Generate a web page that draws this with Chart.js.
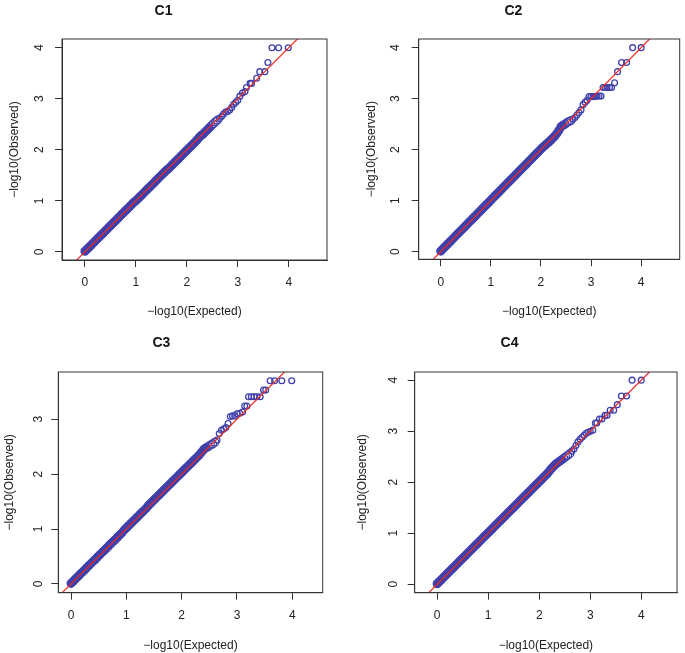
<!DOCTYPE html>
<html>
<head>
<meta charset="utf-8">
<script src="https://cdn.jsdelivr.net/npm/chart.js@4"></script>
<style>
  body { margin: 0; background: #fff; }
  canvas { position: absolute; }
</style>
</head>
<body>
<canvas id="c1" width="342" height="326" style="left:0;top:0"></canvas>
<canvas id="c2" width="343" height="326" style="left:342px;top:0"></canvas>
<canvas id="c3" width="342" height="327" style="left:0;top:326px"></canvas>
<canvas id="c4" width="343" height="327" style="left:342px;top:326px"></canvas>
<script>
const panelTitles = ['C1', 'C2', 'C3', 'C4']
const xTicks = [0, 1, 2, 3, 4]
const yTicks = [[0, 1, 2, 3, 4], [0, 1, 2, 3, 4], [0, 1, 2, 3], [0, 1, 2, 3, 4]]
const refLine = [-1, 5]   // y = x

// dense part of the QQ cloud, shared expected values
const bandExpected = [
  0.00, 0.04, 0.08, 0.12, 0.16, 0.20, 0.24, 0.28, 0.32, 0.36,
  0.40, 0.44, 0.48, 0.52, 0.56, 0.60, 0.64, 0.68, 0.72, 0.76,
  0.80, 0.84, 0.88, 0.92, 0.96, 1.00, 1.04, 1.08, 1.12, 1.16,
  1.20, 1.24, 1.28, 1.32, 1.36, 1.40, 1.44, 1.48, 1.52, 1.56,
  1.60, 1.64, 1.68, 1.72, 1.76, 1.80, 1.84, 1.88, 1.92, 1.96,
  2.00, 2.04, 2.08, 2.12, 2.16, 2.20, 2.24, 2.28, 2.32, 2.36,
  2.40, 2.44, 2.48, 2.52, 2.56, 2.60
]

const c1Band = [
  0.01, 0.05, 0.09, 0.13, 0.17, 0.21, 0.25, 0.29, 0.33, 0.37,
  0.41, 0.45, 0.49, 0.53, 0.57, 0.61, 0.65, 0.69, 0.73, 0.77,
  0.81, 0.85, 0.89, 0.93, 0.97, 1.00, 1.04, 1.08, 1.12, 1.16,
  1.20, 1.24, 1.28, 1.32, 1.36, 1.40, 1.44, 1.48, 1.52, 1.56,
  1.60, 1.63, 1.67, 1.71, 1.75, 1.79, 1.83, 1.87, 1.91, 1.95,
  1.99, 2.03, 2.07, 2.11, 2.15, 2.19, 2.24, 2.28, 2.31, 2.35,
  2.39, 2.43, 2.47, 2.51, 2.55, 2.58
]
const c1TailExpected = [2.64, 2.68, 2.72, 2.76, 2.80, 2.84, 2.88, 2.92, 2.96, 3.00, 3.04, 3.09, 3.14, 3.17, 3.24, 3.27, 3.37, 3.43, 3.53, 3.59, 3.67, 3.80, 3.99]
const c1TailObserved = [2.61, 2.65, 2.70, 2.74, 2.75, 2.78, 2.83, 2.89, 2.93, 2.97, 3.05, 3.11, 3.14, 3.22, 3.30, 3.30, 3.40, 3.53, 3.53, 3.71, 4.00, 4.00, 4.00]

const c2Band = [
  0.01, 0.05, 0.09, 0.13, 0.17, 0.21, 0.25, 0.29, 0.33, 0.37,
  0.41, 0.45, 0.49, 0.53, 0.57, 0.61, 0.65, 0.69, 0.73, 0.77,
  0.81, 0.85, 0.89, 0.93, 0.97, 1.01, 1.05, 1.09, 1.13, 1.17,
  1.21, 1.25, 1.29, 1.33, 1.37, 1.41, 1.45, 1.49, 1.53, 1.57,
  1.61, 1.65, 1.69, 1.73, 1.77, 1.81, 1.85, 1.89, 1.93, 1.97,
  2.01, 2.05, 2.08, 2.12, 2.15, 2.19, 2.23, 2.27, 2.32, 2.38,
  2.45, 2.48, 2.50, 2.53, 2.55, 2.57
]
const c2TailExpected = [2.64, 2.68, 2.72, 2.76, 2.80, 2.84, 2.88, 2.92, 2.96, 3.00, 3.04, 3.08, 3.12, 3.16, 3.20, 3.24, 3.28, 3.32, 3.37, 3.41, 3.47, 3.53, 3.61, 3.71, 3.83, 4.00]
const c2TailObserved = [2.60, 2.63, 2.68, 2.73, 2.78, 2.88, 2.93, 2.97, 3.04, 3.04, 3.04, 3.04, 3.05, 3.05, 3.05, 3.22, 3.22, 3.22, 3.22, 3.22, 3.31, 3.53, 3.71, 3.71, 4.00, 4.00]

const c3Band = [
  0.01, 0.05, 0.09, 0.13, 0.17, 0.21, 0.25, 0.29, 0.33, 0.37,
  0.41, 0.45, 0.49, 0.53, 0.57, 0.61, 0.65, 0.69, 0.73, 0.77,
  0.81, 0.85, 0.89, 0.93, 0.98, 1.02, 1.06, 1.10, 1.14, 1.18,
  1.22, 1.26, 1.30, 1.34, 1.38, 1.43, 1.47, 1.51, 1.55, 1.59,
  1.63, 1.67, 1.71, 1.75, 1.79, 1.83, 1.87, 1.91, 1.95, 1.99,
  2.03, 2.07, 2.11, 2.15, 2.19, 2.23, 2.27, 2.31, 2.35, 2.40,
  2.45, 2.48, 2.50, 2.53, 2.55, 2.58
]
const c3TailExpected = [2.64, 2.68, 2.72, 2.76, 2.80, 2.84, 2.88, 2.92, 2.96, 3.00, 3.05, 3.10, 3.14, 3.18, 3.21, 3.26, 3.31, 3.36, 3.42, 3.48, 3.52, 3.60, 3.68, 3.81, 3.99]
const c3TailObserved = [2.62, 2.74, 2.80, 2.82, 2.85, 2.92, 3.05, 3.06, 3.06, 3.10, 3.11, 3.13, 3.24, 3.24, 3.41, 3.41, 3.41, 3.41, 3.41, 3.53, 3.53, 3.70, 3.70, 3.70, 3.70]

const c4Band = [
  0.01, 0.05, 0.09, 0.13, 0.17, 0.21, 0.25, 0.29, 0.33, 0.37,
  0.41, 0.45, 0.49, 0.53, 0.57, 0.61, 0.65, 0.69, 0.73, 0.77,
  0.81, 0.85, 0.89, 0.93, 0.97, 1.01, 1.05, 1.09, 1.13, 1.17,
  1.21, 1.25, 1.29, 1.33, 1.37, 1.41, 1.45, 1.49, 1.53, 1.57,
  1.61, 1.65, 1.69, 1.73, 1.77, 1.81, 1.85, 1.89, 1.93, 1.97,
  2.01, 2.05, 2.09, 2.13, 2.17, 2.22, 2.27, 2.31, 2.35, 2.38,
  2.41, 2.44, 2.47, 2.50, 2.53, 2.56
]
const c4TailExpected = [2.64, 2.68, 2.72, 2.76, 2.80, 2.84, 2.88, 2.92, 2.96, 3.00, 3.05, 3.10, 3.13, 3.18, 3.23, 3.29, 3.33, 3.39, 3.46, 3.53, 3.61, 3.71, 3.82, 4.00]
const c4TailObserved = [2.61, 2.65, 2.72, 2.79, 2.84, 2.88, 2.92, 2.96, 2.98, 3.00, 3.02, 3.16, 3.16, 3.24, 3.24, 3.31, 3.31, 3.41, 3.41, 3.52, 3.69, 3.69, 4.00, 4.00]

const expectedAll = [
  bandExpected.concat(c1TailExpected),
  bandExpected.concat(c2TailExpected),
  bandExpected.concat(c3TailExpected),
  bandExpected.concat(c4TailExpected)
]
const observedAll = [
  c1Band.concat(c1TailObserved),
  c2Band.concat(c2TailObserved),
  c3Band.concat(c3TailObserved),
  c4Band.concat(c4TailObserved)
]

// axis limits
const xLimits = [[-0.45, 4.75], [-0.44, 4.77], [-0.23, 4.55], [-0.44, 4.70]]
const yLimits = [[-0.16, 4.17], [-0.15, 4.17], [-0.16, 3.86], [-0.165, 4.16]]

// placement inside each canvas (pixels)
const layoutBoxes = [
  { w: 342, h: 326, left: 62, right: 327, top: 39, bottom: 260, titleY: 11, yTitleX: 15, yTickX: 40, xTickY: 283, xTitleY: 312 },
  { w: 343, h: 326, left: 76.7, right: 342.7, top: 39, bottom: 259.3, titleY: 10.7, yTitleX: 30, yTickX: 53.3, xTickY: 282.7, xTitleY: 312 },
  { w: 342, h: 327, left: 58.3, right: 322.7, top: 46, bottom: 266.7, titleY: 16.7, yTitleX: 9.5, yTickX: 38.3, xTickY: 289.3, xTitleY: 319.3 },
  { w: 343, h: 327, left: 72.7, right: 335, top: 46, bottom: 266.7, titleY: 16.7, yTitleX: 20.7, yTickX: 51.7, xTickY: 289.3, xTitleY: 319.3 }
]

const FONT = '"Liberation Sans", Arial, Helvetica, sans-serif'
const AXIS = '#333'
const BLUE = '#4040ab'
const TICK_LEN = 7
const HALF_LINE = 7.2   // 12px * 1.2 / 2
const nBand = bandExpected.length

const boxPlugin = {
  id: 'box',
  afterDatasetsDraw(chart) {
    const a = chart.chartArea
    const ctx = chart.ctx
    ctx.save()
    ctx.strokeStyle = AXIS
    ctx.lineWidth = 1
    ctx.strokeRect(a.left, a.top, a.right - a.left, a.bottom - a.top)
    ctx.restore()
  }
}

panelTitles.forEach((title, i) => {
  const b = layoutBoxes[i]
  const pts = expectedAll[i].map((x, k) => ({ x: x, y: observedAll[i][k] }))
  const yt = yTicks[i]

  new Chart(document.getElementById('c' + (i + 1)), {
    type: 'scatter',
    data: {
      datasets: [
        {
          type: 'line',
          data: refLine.map(v => ({ x: v, y: v })),
          borderColor: '#ee2a1f',
          borderWidth: 1.2,
          pointRadius: 0,
          order: 0
        },
        {
          data: pts,
          pointStyle: 'circle',
          // thousands of overlapping rings make the low end a solid band
          pointRadius: c => c.dataIndex < nBand ? 3.9 : 2.9,
          borderWidth: 1.3,
          borderColor: BLUE,
          backgroundColor: c => c.dataIndex < nBand - 4 ? BLUE : 'rgba(0,0,0,0)',
          order: 1
        }
      ]
    },
    options: {
      responsive: false,
      animation: false,
      events: [],
      layout: { padding: { left: 0, right: b.w - b.right, top: 0, bottom: 0 } },
      plugins: {
        legend: { display: false },
        tooltip: { enabled: false },
        title: {
          display: true,
          text: title,
          color: '#111',
          font: { family: FONT, size: 14, weight: 'bold' },
          padding: { top: b.titleY - 8.4, bottom: b.top - b.titleY - 8.4 }
        }
      },
      scales: {
        x: {
          type: 'linear',
          min: xLimits[i][0],
          max: xLimits[i][1],
          afterBuildTicks: s => { s.ticks = xTicks.map(v => ({ value: v })) },
          afterFit: s => { s.height = b.h - b.bottom },
          grid: { drawOnChartArea: false, tickLength: TICK_LEN, color: AXIS },
          border: { color: AXIS, width: 1 },
          ticks: {
            color: '#222',
            font: { family: FONT, size: 12 },
            maxRotation: 0,
            padding: b.xTickY - b.bottom - TICK_LEN - HALF_LINE
          },
          title: {
            display: true,
            text: '\u2212log10(Expected)',
            color: '#222',
            font: { family: FONT, size: 12 },
            padding: { top: 0, bottom: b.h - b.xTitleY - HALF_LINE }
          }
        },
        y: {
          type: 'linear',
          min: yLimits[i][0],
          max: yLimits[i][1],
          afterBuildTicks: s => { s.ticks = yt.map(v => ({ value: v })) },
          afterFit: s => { s.width = b.left },
          grid: { drawOnChartArea: false, tickLength: TICK_LEN, color: AXIS },
          border: { color: AXIS, width: 1 },
          ticks: {
            color: '#222',
            font: { family: FONT, size: 12 },
            minRotation: 90,
            maxRotation: 90,
            crossAlign: 'center',
            padding: b.left - TICK_LEN - b.yTickX - 3.35
          },
          title: {
            display: true,
            text: '\u2212log10(Observed)',
            color: '#222',
            font: { family: FONT, size: 12 },
            padding: { top: b.yTitleX - HALF_LINE, bottom: 0 }
          }
        }
      }
    },
    plugins: [boxPlugin]
  })
})
</script>
</body>
</html>
